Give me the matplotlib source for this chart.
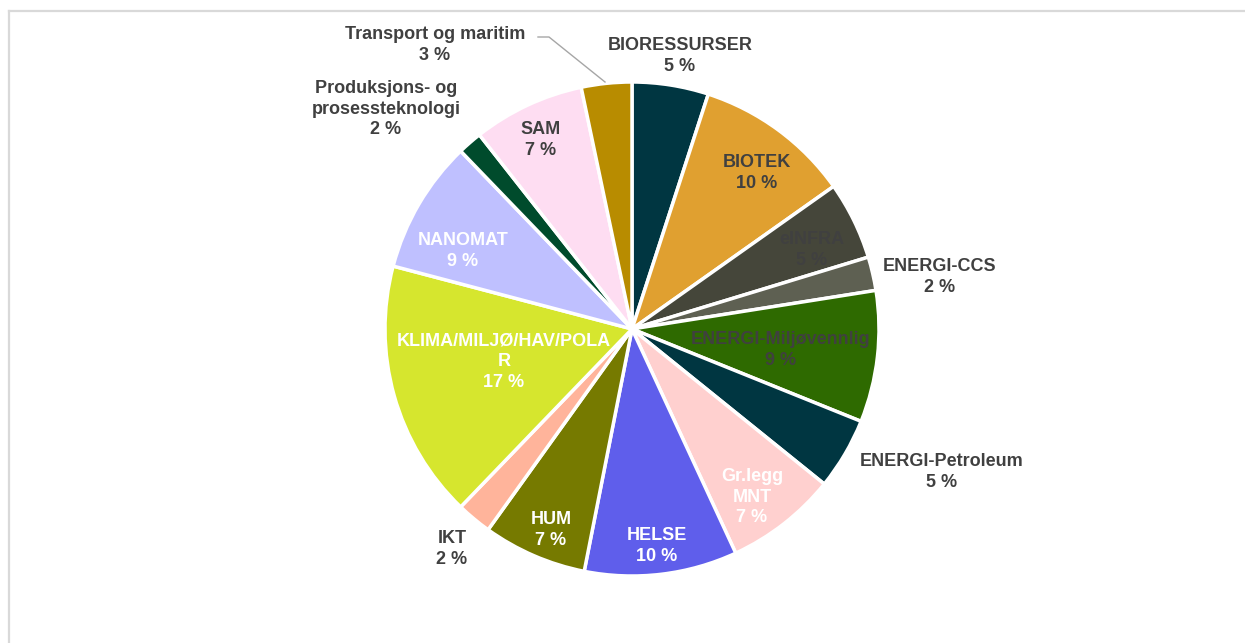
import matplotlib.pyplot as plt

# shares per field, clockwise from 12 o'clock
fields = ['BIORESSURSER', 'BIOTEK', 'eINFRA', 'ENERGI-CCS', 'ENERGI-Miljøvennlig',
          'ENERGI-Petroleum', 'Gr.legg\nMNT', 'HELSE', 'HUM', 'IKT',
          'KLIMA/MILJØ/HAV/POLA\nR', 'NANOMAT', 'Produksjons- og\nprosessteknologi',
          'SAM', 'Transport og maritim']
shares = [5.0, 10.2, 5.1, 2.2, 8.6, 4.7, 7.3, 10.0, 6.8, 2.3, 16.9, 8.7, 1.6, 7.3, 3.3]
colors = ['#003641', '#E0A030', '#45463A', '#5E6052', '#2E6A00', '#003641', '#FFD0CF',
          '#5F5EEB', '#767A00', '#FFB49B', '#D6E62E', '#BFC0FF', '#004B2C', '#FEDDF2',
          '#B88C00']
text_colors = ['#404040', '#404040', '#404040', '#404040', '#404040', '#404040', 'white',
               'white', 'white', '#404040', 'white', 'white', '#404040', '#404040',
               '#404040']
# label centres in pixel positions (x from left, y from top)
label_pos = [(680, 56), (757, 173), (812, 250), (940, 277), (781, 350), (942, 472),
             (752, 497), (657, 546), (551, 530), (452, 549), (504, 362), (463, 251),
             (386, 109), (541, 140), (435, 45)]

W, H = 1245, 643
fig = plt.figure(figsize=(W / 100, H / 100), dpi=100)
ax = fig.add_axes([0, 0, 1, 1])

# light frame (top and left edges)
ax.plot([9, W], [H - 11, H - 11], color='#D9D9D9', lw=1.6)
ax.plot([9, 9], [H - 11, 0], color='#D9D9D9', lw=1.6)

ax.pie(shares, colors=colors, startangle=90, counterclock=False,
       center=(632, H - 329), radius=247, frame=True,
       wedgeprops=dict(edgecolor='white', linewidth=2.5))
ax.set_xlim(0, W)
ax.set_ylim(0, H)
ax.set_aspect('equal')
ax.axis('off')

for name, v, c, (x, y) in zip(fields, shares, text_colors, label_pos):
    ax.text(x, H - y, f'{name}\n{round(v)} %', ha='center', va='center',
            fontsize=13, fontweight='bold', color=c, family='Liberation Sans',
            linespacing=1.3)

# leader line for Transport og maritim
ax.plot([538, 549, 605], [H - 37, H - 37, H - 82], color='#A6A6A6', lw=1)

fig.savefig('out.png', dpi=100)
